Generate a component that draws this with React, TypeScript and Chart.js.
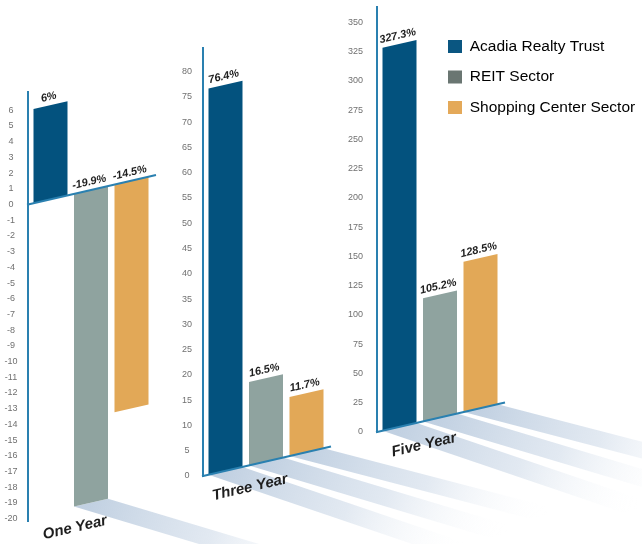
import React, { useEffect, useRef } from "react";
import { Chart, registerables } from "chart.js";

Chart.register(...registerables);

// ---- data ----
const periods = ["One Year", "Three Year", "Five Year"];
const seriesNames = ["Acadia Realty Trust", "REIT Sector", "Shopping Center Sector"];
const acadiaReturns = [6, 76.4, 327.3];
const reitReturns = [-19.9, 16.5, 105.2];
const shoppingReturns = [-14.5, 11.7, 128.5];
const seriesValues = [acadiaReturns, reitReturns, shoppingReturns];

// axis ranges / ticks per panel
const axisMin = [-20.2, 0, 0];
const axisMax = [7.16, 84.65, 363.2];
const tickBottom = [-20, 0, 0];
const tickTop = [6, 80, 350];
const tickStep = [1, 5, 25];

// ---- style ----
const barColors = ["#03527e", "#8fa39f", "#e2a857"];
const legendColors = ["#0a5681", "#6a7672", "#e4a959"];
const AXIS_COLOR = "#2a80b0";
const SHEAR = 0.23;
const W = 642;
const H = 544;
const PLOT_W = 126;
const FONT = '"Liberation Sans", Arial, sans-serif';

type PanelLayout = {
  axisX: number;
  top: number;
  bottom: number;
  axisW: number;
  tickGap: number;
  tickAlign: "near" | "center";
  titleDy: number;
  shadows: boolean[];
  legend: boolean;
};

const panels: PanelLayout[] = [
  { axisX: 28, top: 92, bottom: 521.8, axisW: 28, tickGap: 10.5, tickAlign: "center", titleDy: 6, shadows: [false, true, false], legend: false },
  { axisX: 203, top: 48, bottom: 476, axisW: 40, tickGap: 11, tickAlign: "center", titleDy: 11.5, shadows: [true, true, true], legend: false },
  { axisX: 377, top: 7, bottom: 432, axisW: 40, tickGap: 14, tickAlign: "near", titleDy: 13, shadows: [true, true, true], legend: true },
];

const shadowSlopes = [0.34, 0.3, 0.26];
const SHADOW_LEN = 240;

function makeDecor(p: PanelLayout) {
  return {
    id: "decor",
    beforeDraw(chart: any) {
      if (p.legend && chart.legend) {
        const lg = chart.legend;
        lg.left = 433;
        lg.right = W;
        lg.top = 23.75;
        lg.bottom = 200;
      }
    },
    beforeDatasetsDraw(chart: any) {
      const ctx: CanvasRenderingContext2D = chart.ctx;
      const x0 = chart.chartArea.left;
      chart.data.datasets.forEach((_ds: any, i: number) => {
        if (!p.shadows[i]) return;
        const el: any = chart.getDatasetMeta(i).data[0];
        const l = el.x - el.width / 2;
        const r = el.x + el.width / 2;
        const low = Math.max(el.y, el.base);
        const ax = l, ay = low - SHEAR * (l - x0);
        const bx = r, by = low - SHEAR * (r - x0);
        const dx = SHADOW_LEN, dy = SHADOW_LEN * shadowSlopes[i];
        const mx = (ax + bx) / 2, my = (ay + by) / 2;
        const g = ctx.createLinearGradient(mx, my, mx + dx, my + dy);
        g.addColorStop(0, "rgba(190,206,224,0.95)");
        g.addColorStop(0.5, "rgba(214,224,236,0.7)");
        g.addColorStop(1, "rgba(255,255,255,0)");
        ctx.save();
        ctx.beginPath();
        ctx.moveTo(ax, ay);
        ctx.lineTo(bx, by);
        ctx.lineTo(bx + dx, by + dy);
        ctx.lineTo(ax + dx, ay + dy);
        ctx.closePath();
        ctx.fillStyle = g;
        ctx.fill();
        ctx.restore();
      });
      ctx.save();
      ctx.transform(1, -SHEAR, 0, 1, 0, SHEAR * x0);
    },
    afterDatasetsDraw(chart: any) {
      const ctx: CanvasRenderingContext2D = chart.ctx;
      ctx.restore();
      const x0 = chart.chartArea.left;
      const ys = chart.scales.y;
      const zero = ys.getPixelForValue(0);
      const ang = Math.atan(-SHEAR);

      // slanted zero baseline
      ctx.save();
      ctx.strokeStyle = AXIS_COLOR;
      ctx.lineWidth = 2;
      ctx.beginPath();
      ctx.moveTo(x0 - 1, zero + SHEAR);
      const xe = chart.chartArea.right + 2;
      ctx.lineTo(xe, zero - SHEAR * (xe - x0));
      ctx.stroke();
      ctx.restore();

      // value labels
      chart.data.datasets.forEach((ds: any, i: number) => {
        const el: any = chart.getDatasetMeta(i).data[0];
        const v = ds.data[0];
        const anchor = v >= 0 ? el.y : el.base;
        const yy = anchor - SHEAR * (el.x - x0);
        ctx.save();
        ctx.translate(el.x, yy);
        ctx.rotate(ang);
        ctx.font = `italic bold 11px ${FONT}`;
        ctx.fillStyle = "#1f1f1f";
        ctx.textAlign = "center";
        ctx.textBaseline = "alphabetic";
        ctx.fillText(`${v}%`, 0, -5);
        ctx.restore();
      });

      // category title
      ctx.save();
      ctx.translate(x0 + 47, chart.chartArea.bottom + p.titleDy);
      ctx.rotate(ang);
      ctx.font = `italic bold 15px ${FONT}`;
      ctx.fillStyle = "#1e1e1e";
      ctx.textAlign = "center";
      ctx.textBaseline = "middle";
      ctx.fillText(String(chart.data.labels[0]), 0, 0);
      ctx.restore();
    },
  };
}

function buildConfig(idx: number): any {
  const p = panels[idx];
  return {
    type: "bar",
    data: {
      labels: [periods[idx]],
      datasets: seriesValues.map((vals, i) => ({
        label: seriesNames[i],
        data: [vals[idx]],
        backgroundColor: barColors[i],
        borderWidth: 0,
        clip: false,
        categoryPercentage: 0.9643,
        barPercentage: 0.8395,
      })),
    },
    options: {
      responsive: false,
      animation: false,
      devicePixelRatio: 1,
      layout: {
        padding: {
          left: p.axisX - p.axisW,
          right: W - p.axisX - PLOT_W,
          top: p.top,
          bottom: H - p.bottom,
        },
      },
      plugins: {
        tooltip: { enabled: false },
        legend: p.legend
          ? {
              display: true,
              position: "chartArea",
              align: "start",
              labels: {
                boxWidth: 14,
                boxHeight: 13,
                padding: 15,
                color: "#3a3a3a",
                font: { size: 15.5, family: FONT },
                generateLabels: (chart: any) =>
                  chart.data.datasets.map((ds: any, i: number) => ({
                    text: ds.label,
                    fillStyle: legendColors[i],
                    strokeStyle: legendColors[i],
                    lineWidth: 0,
                    hidden: false,
                    datasetIndex: i,
                  })),
              },
            }
          : { display: false },
      },
      scales: {
        x: { display: false, offset: true },
        y: {
          min: axisMin[idx],
          max: axisMax[idx],
          bounds: "data",
          grid: { display: false, drawTicks: true, tickLength: p.tickGap },
          border: { display: true, color: AXIS_COLOR, width: 2 },
          ticks: {
            autoSkip: false,
            padding: 0,
            crossAlign: p.tickAlign,
            color: "#707070",
            font: { size: 9, family: FONT },
          },
          afterBuildTicks: (s: any) => {
            const out: { value: number }[] = [];
            const n = Math.round((tickTop[idx] - tickBottom[idx]) / tickStep[idx]);
            for (let k = 0; k <= n; k++) out.push({ value: tickBottom[idx] + k * tickStep[idx] });
            s.ticks = out;
          },
          afterFit: (s: any) => {
            s.width = p.axisW;
          },
        },
      },
    },
    plugins: [makeDecor(p)],
  };
}

function Panel({ idx }: { idx: number }) {
  const ref = useRef<HTMLCanvasElement>(null);
  useEffect(() => {
    const chart = new Chart(ref.current as HTMLCanvasElement, buildConfig(idx));
    return () => chart.destroy();
  }, [idx]);
  return (
    <canvas
      ref={ref}
      width={W}
      height={H}
      style={{ position: "absolute", left: 0, top: 0, width: W, height: H }}
    />
  );
}

export default function App() {
  return (
    <div
      style={{
        position: "absolute",
        left: 0,
        top: 0,
        width: W,
        height: H,
        background: "#fff",
        overflow: "hidden",
      }}
    >
      {[0, 1, 2].map((i) => (
        <Panel key={i} idx={i} />
      ))}
    </div>
  );
}
